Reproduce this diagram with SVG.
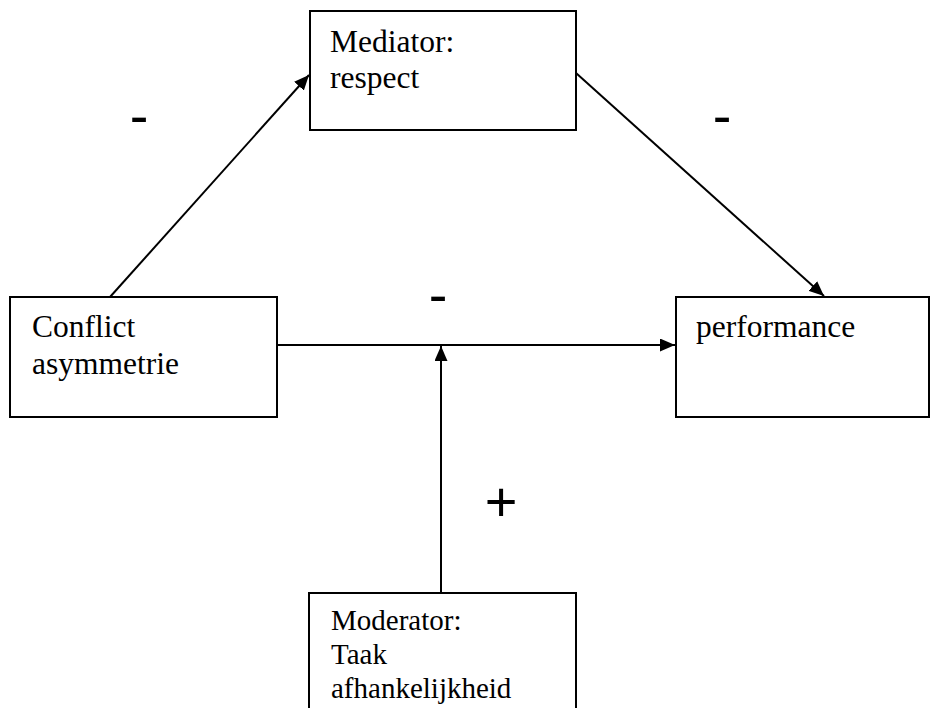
<svg xmlns="http://www.w3.org/2000/svg" width="931" height="708" viewBox="0 0 931 708">
  <style>
    .box { fill: #ffffff; stroke: #000000; stroke-width: 2; }
    .lbl { font-family: "Liberation Serif", "Times New Roman", serif; font-size: 31.5px; fill: #000000; }
    .lbl-sm { font-family: "Liberation Serif", "Times New Roman", serif; font-size: 29px; fill: #000000; }
    .sign { font-family: "Liberation Sans", Arial, sans-serif; font-size: 56px; fill: #000000; text-anchor: middle; }
    .edge { fill: none; stroke: #000000; stroke-width: 2; }
  </style>
  <defs>
    <marker id="arrow" markerUnits="userSpaceOnUse" markerWidth="16" markerHeight="13" refX="15" refY="6.5" orient="auto">
      <path d="M0,0 L15,6.5 L0,13 z" fill="#000000"/>
    </marker>
  </defs>

  <rect width="931" height="708" fill="#ffffff"/>

  <!-- connectors -->
  <g id="connectors">
    <line class="edge" x1="110" y1="297" x2="309" y2="75" marker-end="url(#arrow)"/>
    <line class="edge" x1="576" y1="73" x2="824" y2="296" marker-end="url(#arrow)"/>
    <line class="edge" x1="277" y1="345" x2="675" y2="345" marker-end="url(#arrow)"/>
    <line class="edge" x1="441" y1="593" x2="441" y2="346" marker-end="url(#arrow)"/>
  </g>

  <!-- effect signs -->
  <g id="signs">
    <text class="sign" x="139" y="135">-</text>
    <text class="sign" x="722" y="135">-</text>
    <text class="sign" x="438" y="314">-</text>
    <text class="sign" x="501" y="521">+</text>
  </g>

  <g id="mediator">
    <rect class="box" x="310" y="11" width="266" height="119"/>
    <text class="lbl" x="330" y="52">Mediator:</text>
    <text class="lbl" x="330" y="88">respect</text>
  </g>

  <g id="conflict">
    <rect class="box" x="10" y="297" width="267" height="120"/>
    <text class="lbl" x="32" y="337">Conflict</text>
    <text class="lbl" x="32" y="374">asymmetrie</text>
  </g>

  <g id="performance">
    <rect class="box" x="676" y="297" width="253" height="120"/>
    <text class="lbl" x="696" y="337">performance</text>
  </g>

  <g id="moderator">
    <rect class="box" x="309" y="593" width="267" height="125"/>
    <text class="lbl-sm" x="331" y="630">Moderator:</text>
    <text class="lbl-sm" x="331" y="664">Taak</text>
    <text class="lbl-sm" x="331" y="698">afhankelijkheid</text>
  </g>
</svg>
